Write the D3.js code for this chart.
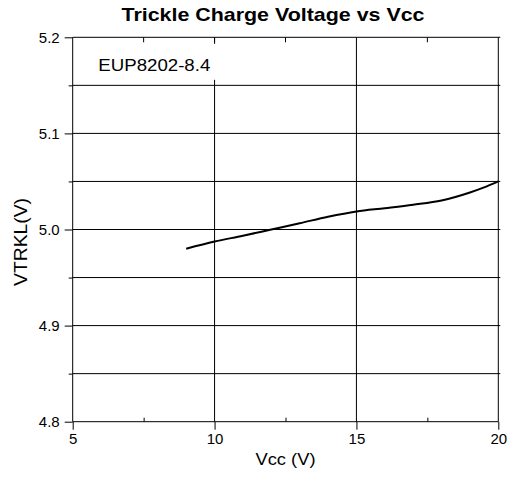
<!DOCTYPE html>
<html>
<head>
<meta charset="utf-8">
<script src="https://cdn.jsdelivr.net/npm/d3@7"></script>
<style>
  body { margin: 0; background: #fff; }
  text { font-family: "Liberation Sans", Arial, sans-serif; fill: #000; }
</style>
</head>
<body>
<div id="grafico"></div>
<script>
// data
var vcc = [9, 10, 11, 12, 13, 14, 15, 16, 17, 18, 19, 19.5, 20]
var vtrkl = [4.980, 4.9875, 4.9935, 5.000, 5.0065, 5.0133, 5.0188, 5.0222, 5.0258, 5.0302, 5.0385, 5.0438, 5.050]
var xTicks = [5, 10, 15, 20]
var xMinor = [7.5, 12.5, 17.5]
var yTicks = [4.8, 4.9, 5.0, 5.1, 5.2]
var yMinor = [4.85, 4.95, 5.05, 5.15]

var width = 517
    height = 484
var margin = {top: 37.3, right: 18.7, bottom: 62.3, left: 72.7}
var w = width - margin.left - margin.right
var h = height - margin.top - margin.bottom

var svg = d3.select("#grafico")
  .append("svg")
    .attr("width", width)
    .attr("height", height)

var g = svg.append("g")
  .attr("transform", "translate(" + margin.left + "," + margin.top + ")")

var x = d3.scaleLinear().domain([5, 20]).range([0, w])
var y = d3.scaleLinear().domain([4.8, 5.2]).range([h, 0])

// horizontal grid lines, every 0.05
var hGrid = yTicks.concat(yMinor).filter(function(d){ return d > 4.8 && d < 5.2 })
g.selectAll(".hgrid")
  .data(hGrid)
  .enter()
  .append("line")
    .attr("x1", 0)
    .attr("x2", w + 2)
    .attr("y1", function(d){ return y(d) })
    .attr("y2", function(d){ return y(d) })
    .attr("stroke", "#000")
    .attr("stroke-width", 1)

// vertical grid lines
g.selectAll(".vgrid")
  .data([10, 15, 20])
  .enter()
  .append("line")
    .attr("x1", function(d){ return x(d) })
    .attr("x2", function(d){ return x(d) })
    .attr("y1", 0)
    .attr("y2", h)
    .attr("stroke", "#000")
    .attr("stroke-width", 1)

// top border
g.append("line")
  .attr("x1", 0).attr("x2", w + 2)
  .attr("y1", 0).attr("y2", 0)
  .attr("stroke", "#000")

// top minor ticks (pointing in)
g.selectAll(".topt")
  .data(xMinor.concat([10]))
  .enter()
  .append("line")
    .attr("x1", function(d){ return x(d) })
    .attr("x2", function(d){ return x(d) })
    .attr("y1", 0)
    .attr("y2", 5)
    .attr("stroke", "#000")

// white box behind the part label
g.append("rect")
  .attr("x", 1)
  .attr("y", 6.5)
  .attr("width", 152)
  .attr("height", 36)
  .attr("fill", "#fff")

g.append("text")
  .attr("x", 98.3 - margin.left)
  .attr("y", 70.7 - margin.top)
  .attr("font-size", 17)
  .attr("textLength", 112)
  .attr("lengthAdjust", "spacingAndGlyphs")
  .text("EUP8202-8.4")

// axes
var xAxis = g.append("g")
  .attr("transform", "translate(0," + h + ")")
  .call(d3.axisBottom(x).tickValues(xTicks).tickFormat(d3.format("d")).tickSize(8).tickPadding(4))
var xAxisMinor = g.append("g")
  .attr("transform", "translate(0," + h + ")")
  .call(d3.axisBottom(x).tickValues(xMinor).tickFormat("").tickSize(-4))

var yAxis = g.append("g")
  .call(d3.axisLeft(y).tickValues(yTicks).tickFormat(d3.format(".1f")).tickSize(8).tickPadding(5))
var yAxisMinor = g.append("g")
  .call(d3.axisLeft(y).tickValues(yMinor).tickFormat("").tickSize(4))

svg.selectAll(".domain").remove()
g.append("line")
  .attr("x1", 0).attr("x2", 0).attr("y1", 0).attr("y2", h)
  .attr("stroke", "#000")
g.append("line")
  .attr("x1", 0).attr("x2", w).attr("y1", h).attr("y2", h)
  .attr("stroke", "#000")

svg.selectAll(".tick line").attr("stroke", "#000")
svg.selectAll(".tick text")
  .attr("font-size", 15)
  .style("font-family", '"Liberation Sans", Arial, sans-serif')
  .attr("fill", "#000")

// the curve
var line = d3.line()
  .x(function(d){ return x(d[0]) })
  .y(function(d){ return y(d[1]) })
  .curve(d3.curveMonotoneX)

g.append("path")
  .datum(vcc.map(function(d, i){ return [d, vtrkl[i]] }))
  .attr("d", line)
  .attr("fill", "none")
  .attr("stroke", "#000")
  .attr("stroke-width", 2)

// titles
svg.append("text")
  .attr("x", 273)
  .attr("y", 20.7)
  .attr("text-anchor", "middle")
  .attr("font-size", 19)
  .attr("font-weight", "bold")
  .attr("textLength", 303)
  .attr("lengthAdjust", "spacingAndGlyphs")
  .text("Trickle Charge Voltage vs Vcc")

svg.append("text")
  .attr("x", margin.left + w / 2)
  .attr("y", 465.3)
  .attr("text-anchor", "middle")
  .attr("font-size", 16.5)
  .attr("textLength", 60)
  .attr("lengthAdjust", "spacingAndGlyphs")
  .text("Vcc (V)")

svg.append("text")
  .attr("transform", "translate(26.5,242) rotate(-90)")
  .attr("text-anchor", "middle")
  .attr("font-size", 18)
  .attr("textLength", 88)
  .attr("lengthAdjust", "spacingAndGlyphs")
  .text("VTRKL(V)")
</script>
</body>
</html>
